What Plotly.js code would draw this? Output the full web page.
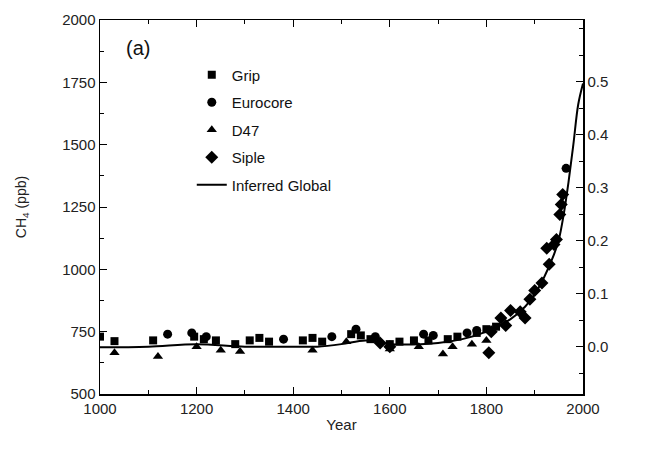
<!DOCTYPE html>
<html>
<head>
<meta charset="utf-8">
<script src="https://cdn.plot.ly/plotly-3.0.1.min.js"></script>
<style>html,body{margin:0;padding:0;background:#fff}#chart{width:651px;height:452px}</style>
</head>
<body>
<div id="chart"></div>
<script>
// Grip (squares)
const gripYear = [1000,1030,1110,1195,1215,1240,1280,1310,1330,1350,1420,1440,1460,1520,1540,1560,1600,1620,1650,1680,1720,1740,1780,1800,1820];
const gripCH4  = [730,712,715,730,720,715,700,715,725,710,715,725,710,740,735,720,700,710,715,715,720,730,745,760,770];
// Eurocore (circles)
const euroYear = [1140,1190,1220,1380,1480,1530,1570,1670,1690,1760,1780,1965];
const euroCH4  = [740,745,730,720,730,760,730,740,735,745,755,1405];
// D47 (triangles)
const d47Year = [1030,1120,1200,1250,1290,1440,1510,1600,1660,1710,1730,1770,1800];
const d47CH4  = [665,650,690,675,670,675,710,680,690,660,690,700,715];
// Siple (diamonds)
const sipleYear = [1580,1600,1805,1810,1830,1840,1850,1870,1880,1890,1900,1915,1925,1930,1940,1945,1952,1955,1958];
const sipleCH4  = [705,690,665,750,805,775,835,830,805,880,915,945,1085,1020,1100,1120,1220,1260,1300];
// Inferred global (line)
const globYear = [1000,1100,1200,1300,1400,1450,1500,1550,1600,1700,1750,1800,1850,1880,1900,1920,1940,1950,1960,1970,1980,1990,2000];
const globCH4  = [688,690,700,690,690,690,700,715,700,705,720,750,800,850,900,970,1060,1120,1220,1350,1500,1660,1745];

const xTicks = [1000,1200,1400,1600,1800,2000];
const yTicks = [500,750,1000,1250,1500,1750,2000];
const rTicks = [0.0,0.1,0.2,0.3,0.4,0.5];

const black = '#000';
const mk = (sym, size) => ({symbol: sym, size: size, color: black, line: {width: 0}});
const traces = [
  {x: gripYear, y: gripCH4, name: 'Grip', type: 'scatter', mode: 'markers', marker: mk('square', 8), legendgroup: 'a'},
  {x: euroYear, y: euroCH4, name: 'Eurocore', type: 'scatter', mode: 'markers', marker: mk('circle', 9), legendgroup: 'b'},
  {x: d47Year, y: d47CH4, name: 'D47', type: 'scatter', mode: 'markers', marker: mk('triangle-up', 9), legendgroup: 'c'},
  {x: sipleYear, y: sipleCH4, name: 'Siple', type: 'scatter', mode: 'markers', marker: mk('diamond', 10), legendgroup: 'd'},
  {x: globYear, y: globCH4, name: 'Inferred Global', type: 'scatter', mode: 'lines', line: {color: black, width: 2, shape: 'spline'}, legendgroup: 'e'},
  {x: [2000], y: [0], yaxis: 'y2', type: 'scatter', mode: 'markers', marker: {opacity: 0}, showlegend: false, hoverinfo: 'skip'}
];

const tickFont = {family: 'Liberation Sans, Arial, sans-serif', size: 15, color: '#222'};
const layout = {
  width: 651, height: 452,
  margin: {l: 100, r: 68, t: 20, b: 58},
  paper_bgcolor: '#fff', plot_bgcolor: '#fff',
  showlegend: true,
  legend: {x: 0.19, y: 0.897, xanchor: 'left', yanchor: 'top', bgcolor: 'rgba(0,0,0,0)',
           font: {family: 'Liberation Sans, Arial, sans-serif', size: 15, color: '#111'},
           tracegroupgap: 5, itemsizing: 'trace', itemwidth: 30},
  xaxis: {range: [1000, 2000], tickvals: xTicks, ticktext: xTicks.map(String),
          ticks: 'inside', ticklen: 7, tickcolor: black, showline: true, linecolor: black, linewidth: 1.5,
          mirror: 'ticks', showgrid: false, zeroline: false, tickfont: tickFont,
          minor: {dtick: 100, ticks: 'inside', ticklen: 4, tickcolor: black, showgrid: false},
          title: {text: 'Year', font: tickFont, standoff: 4}},
  yaxis: {range: [500, 2000], tickvals: yTicks, ticktext: yTicks.map(String),
          ticks: 'inside', ticklen: 7, tickcolor: black, showline: true, linecolor: black, linewidth: 1.5,
          mirror: false, showgrid: false, zeroline: false, tickfont: tickFont,
          minor: {dtick: 125, ticks: 'inside', ticklen: 4, tickcolor: black, showgrid: false},
          title: {text: 'CH<sub>4</sub> (ppb)', font: {family: 'Liberation Sans, Arial, sans-serif', size: 14, color: '#222'}, standoff: 32}},
  yaxis2: {overlaying: 'y', side: 'right', range: [-0.0887, 0.6168], tickvals: rTicks, ticktext: rTicks.map(v => v.toFixed(1)),
           ticks: 'inside', ticklen: 7, tickcolor: black, showline: true, linecolor: black, linewidth: 1.5,
           showgrid: false, zeroline: false, tickfont: tickFont,
           minor: {dtick: 0.05, ticks: 'inside', ticklen: 4, tickcolor: black, showgrid: false}},
  annotations: [{text: '(a)', xref: 'paper', yref: 'paper', x: 0.078, y: 0.925, xanchor: 'center', yanchor: 'middle',
                 showarrow: false, font: {family: 'Liberation Sans, Arial, sans-serif', size: 20, color: '#111'}}]
};
Plotly.newPlot('chart', traces, layout, {staticPlot: true, displayModeBar: false});
</script>
</body>
</html>
